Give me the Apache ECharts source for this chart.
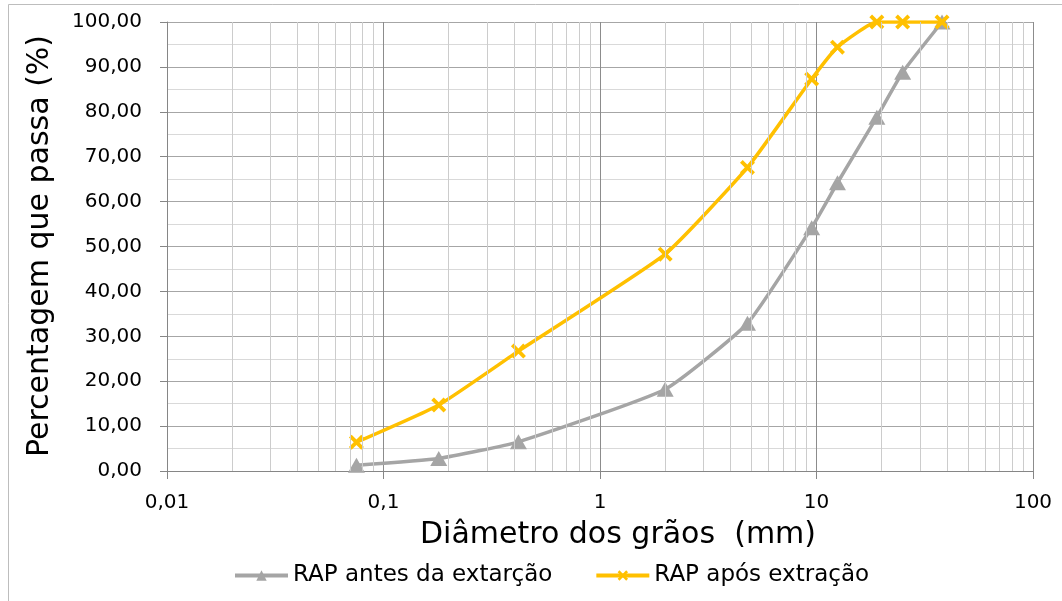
<!DOCTYPE html>
<html>
<head>
<meta charset="utf-8">
<script src="https://cdn.jsdelivr.net/npm/echarts@6/dist/echarts.min.js"></script>
<style>html,body{margin:0;padding:0;background:#fff}#c{width:1062px;height:601px}</style>
</head>
<body>
<div id="c"></div>
<script>
// Sieve sizes (mm)
const sieve = [0.075, 0.18, 0.42, 2.0, 4.8, 9.5, 12.5, 19, 25, 38];
// % passing
const antes = [1.3, 2.8, 6.5, 18.2, 32.9, 54.2, 64.2, 78.8, 88.8, 100];
const apos  = [6.4, 14.7, 26.7, 48.3, 67.6, 87.3, 94.4, 100, 100, 100];
const seriesNames = ['RAP antes da extarção', 'RAP após extração'];
const xTitle = 'Diâmetro dos grãos  (mm)';
const yTitle = 'Percentagem que passa (%)';

// minor log gridlines (2..9 of each decade)
const decades = [0.01, 0.1, 1, 10];
const minorX = [];
decades.forEach(d => { for (let k = 2; k <= 9; k++) minorX.push(+(k * d).toPrecision(3)); });

const FONT = 'DejaVu Sans';
const xMark = 'path://M0,1.8L1.8,0L5,3.2L8.2,0L10,1.8L6.8,5L10,8.2L8.2,10L5,6.8L1.8,10L0,8.2L3.2,5Z';

const chart = echarts.init(document.getElementById('c'), null, {renderer: 'canvas'});
chart.setOption({
  animation: false,
  backgroundColor: '#fff',
  textStyle: {fontFamily: FONT, color: '#000'},
  grid: {left: 167, right: 29, top: 22, bottom: 130, containLabel: false},
  xAxis: {
    type: 'log', logBase: 10, min: 0.01, max: 100,
    axisLine: {show: true, lineStyle: {color: '#868686', width: 1}},
    axisTick: {show: true, length: 8, lineStyle: {color: '#868686'}},
    axisLabel: {
      fontFamily: FONT, fontSize: 20, color: '#000', margin: 22,
      showMinLabel: true, showMaxLabel: true,
      formatter: v => String(v).replace('.', ',')
    },
    splitLine: {show: true, lineStyle: {color: '#8c8c8c', width: 1}}
  },
  yAxis: {
    type: 'value', min: 0, max: 100, interval: 10,
    axisLine: {show: true, lineStyle: {color: '#868686', width: 1}},
    axisTick: {show: true, length: 7, lineStyle: {color: '#868686'}},
    axisLabel: {
      fontFamily: FONT, fontSize: 20, color: '#000', margin: 25,
      formatter: v => v.toFixed(2).replace('.', ',')
    },
    splitLine: {show: true, lineStyle: {color: '#a6a6a6', width: 1}},
    minorTick: {show: false, splitNumber: 2},
    minorSplitLine: {show: true, lineStyle: {color: '#d9d9d9', width: 1}}
  },
  legend: {
    left: 228, top: 559,
    itemWidth: 53, itemHeight: 13, itemGap: 42,
    lineStyle: {width: 4},
    textStyle: {fontFamily: FONT, fontSize: 23, color: '#000'},
    data: seriesNames
  },
  graphic: [
    {type: 'rect', silent: true, z: -10,
     shape: {x: 8.5, y: 4.5, width: 1100, height: 700},
     style: {fill: 'none', stroke: '#bdbdbd', lineWidth: 1}},
    {type: 'text', x: 618, y: 535,
     style: {text: xTitle, font: '30px "DejaVu Sans"', fill: '#000', textAlign: 'center', textVerticalAlign: 'middle'}},
    {type: 'text', x: 40, y: 246, rotation: Math.PI / 2,
     style: {text: yTitle, font: '30px "DejaVu Sans"', fill: '#000', textAlign: 'center', textVerticalAlign: 'middle'}}
  ],
  series: [
    {
      type: 'line', name: '__grid', data: [], z: 1, silent: true,
      markLine: {
        silent: true, symbol: ['none', 'none'], animation: false,
        label: {show: false},
        lineStyle: {color: '#cccccc', width: 1, type: 'solid'},
        emphasis: {disabled: true},
        data: minorX.map(v => ({xAxis: v}))
      }
    },
    {
      type: 'line', name: seriesNames[0],
      data: sieve.map((x, i) => [x, antes[i]]),
      smooth: 0.15, z: 3,
      symbol: 'triangle', symbolSize: [17, 15],
      lineStyle: {color: '#a5a5a5', width: 3.5},
      itemStyle: {color: '#a5a5a5', borderWidth: 0},
      emphasis: {disabled: true}
    },
    {
      type: 'line', name: seriesNames[1],
      data: sieve.map((x, i) => [x, apos[i]]),
      smooth: 0.15, z: 4,
      symbol: xMark, symbolSize: 15,
      lineStyle: {color: '#ffc000', width: 3.5},
      itemStyle: {color: '#ffc000', borderWidth: 0},
      emphasis: {disabled: true}
    }
  ]
});
</script>
</body>
</html>
